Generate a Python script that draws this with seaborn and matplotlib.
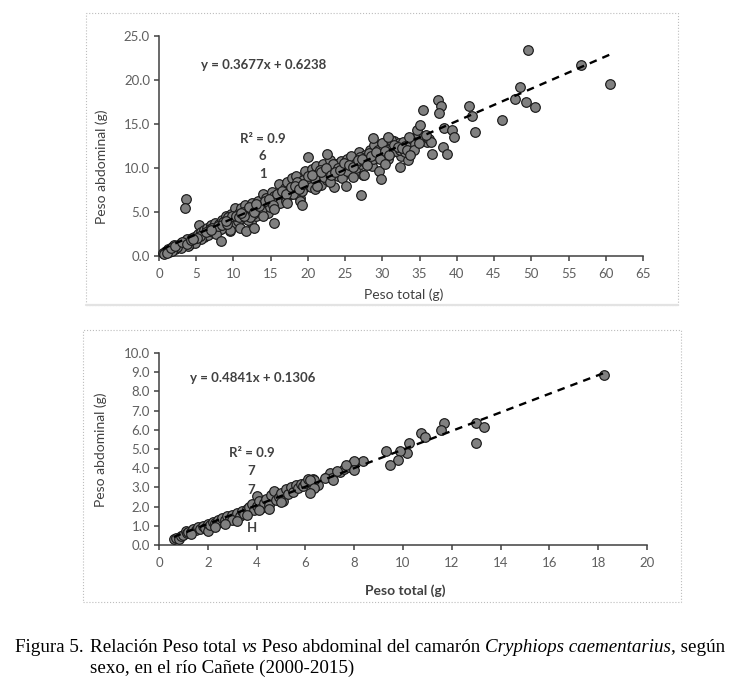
import numpy as np
import pandas as pd
import matplotlib
matplotlib.use("Agg")
import matplotlib.pyplot as plt
import seaborn as sns
from matplotlib.patches import Rectangle

# panel superior: peso total vs peso abdominal
top_total = [
    0.5, 0.8, 1.0, 1.2, 1.5, 1.8, 2.0, 2.3, 2.6, 2.9, 3.2, 3.5, 3.8, 4.1, 4.4, 4.7, 5.0, 5.2, 5.4, 5.6, 5.9,
    6.1, 6.4, 6.7, 7.0, 7.2, 7.5, 7.8, 8.1, 8.4, 8.7, 9.0, 9.2, 9.5, 9.7, 10.0, 10.2, 10.4,
    10.7, 11.0, 11.2, 11.5, 11.8, 12.0, 12.3, 12.5, 12.8, 13.0, 13.3, 13.6, 13.9, 14.1, 14.4, 14.7, 15.0, 15.2,
    15.5, 15.8, 16.1, 16.3, 16.6, 16.9, 17.2, 17.5, 17.8, 18.1, 18.4, 18.7, 19.0, 19.3, 19.6, 19.9,
    20.2, 20.5, 20.8, 21.1, 21.4, 21.7, 22.0, 22.3, 22.6, 22.9, 23.2, 23.5, 23.8, 24.1, 24.4, 24.7,
    25.0, 25.3, 25.6, 25.9, 26.2, 26.5, 26.8, 27.1, 27.4, 27.7, 28.0, 28.3, 28.6, 28.9, 29.2, 29.5, 29.8,
    30.1, 30.4, 30.7, 31.0, 31.3, 31.6, 31.9, 32.2, 32.5, 32.8, 33.1, 33.4, 33.7, 34.0, 34.4, 34.8, 35.3, 36.0,
    0.7, 1.4, 2.1, 2.8, 3.4, 4.0, 4.6, 5.3, 6.0, 6.6, 7.3, 8.0, 8.6, 9.3, 9.9, 10.6, 11.3, 11.9, 12.6, 13.2,
    13.8, 14.3, 14.9, 15.6, 16.2, 16.8, 17.4, 18.0, 18.6, 19.2, 19.8, 20.4, 21.0, 21.6, 22.2, 22.8, 23.4, 24.0, 24.6, 25.2,
    25.8, 26.4, 27.0, 27.6, 28.2, 28.8, 29.4, 30.0, 30.6, 31.2, 31.8, 32.4, 33.0, 33.6,
    26.1, 23.0, 20.9, 18.9, 17.0, 14.0, 12.2, 10.9, 9.6, 8.3, 7.6, 6.9, 5.7, 4.9, 3.9, 3.0, 2.4, 1.7, 1.1,
    1.6, 2.2, 3.1, 3.7, 4.3, 5.5, 6.3, 7.1, 7.9, 8.5, 9.1, 9.8, 10.3, 10.8, 11.4, 12.1, 12.7, 13.4, 14.2, 14.8,
    15.3, 15.9, 16.5, 17.1, 17.7, 18.3, 18.8, 19.4, 20.0, 20.6, 21.2, 21.8, 22.4, 23.1, 23.7, 24.3, 24.9, 25.5, 26.0, 26.7,
    27.3, 27.9, 28.5, 29.1, 29.7, 30.3, 30.9, 31.5, 32.1, 32.7, 33.3, 34.2, 35.6, 36.3, 13.0, 11.0, 9.0, 7.0, 5.1, 4.5,
    49.6, 56.7, 60.6, 48.5, 47.8, 49.3, 50.5, 41.6, 42.0, 46.1, 42.4, 37.5, 37.9, 37.6, 35.5, 38.3, 39.3, 39.6, 38.1, 38.7,
    36.6, 36.5, 35.9, 34.7, 35.0, 34.9, 33.7, 32.4, 29.8, 27.1, 25.1, 20.0, 22.5, 3.6, 3.5, 8.3, 11.7, 12.7, 15.4, 15.4,
    19.2, 17.2, 28.8, 30.8, 30.3, 27.5,
]
top_abdominal = [
    0.3, 0.5, 0.4, 0.8, 0.7, 1.0, 1.2, 0.9, 1.3, 1.5, 1.4, 1.7, 1.9, 1.6, 2.0, 2.2, 1.8, 2.5, 3.5, 2.7, 2.3,
    2.9, 3.2, 2.6, 3.5, 3.0, 3.8, 2.9, 3.6, 4.1, 3.3, 4.5, 3.9, 2.8, 4.8, 4.2, 5.5, 3.6,
    4.9, 5.4, 4.3, 5.8, 4.7, 5.2, 3.9, 6.0, 5.5, 4.6, 6.3, 5.1, 7.0, 5.8, 6.6, 4.9, 6.2, 7.3,
    6.8, 5.9, 8.2, 7.1, 6.4, 7.7, 8.4, 6.9, 8.9, 7.5, 9.1, 8.0, 6.6, 8.6, 9.7, 7.9,
    8.8, 9.9, 8.3, 10.2, 9.3, 8.1, 10.5, 9.6, 8.6, 10.9, 9.9, 7.8, 10.4, 9.1, 10.8, 9.5,
    10.1, 11.0, 9.4, 10.6, 11.3, 10.0, 11.8, 10.4, 9.2, 11.5, 10.9, 12.0, 10.2, 12.6, 11.2, 9.7, 12.3,
    11.6, 12.9, 11.0, 12.4, 11.8, 13.1, 12.2, 12.8, 11.4, 13.0, 12.5, 10.9, 12.9, 13.3, 12.7, 13.9, 13.2, 12.9,
    0.2, 0.5, 0.8, 1.1, 1.2, 1.3, 1.6, 2.0, 2.2, 2.4, 2.7, 3.0, 3.9, 4.4, 3.4, 4.0, 5.0, 4.1, 4.8, 5.4,
    5.3, 6.1, 5.6, 6.3, 6.0, 6.9, 7.5, 7.0, 8.4, 7.4, 8.3, 7.8, 8.7, 9.8, 9.0, 9.5, 10.5, 10.0, 8.9, 9.7,
    11.4, 10.6, 11.2, 10.7, 11.7, 11.0, 12.0, 12.8, 12.1, 13.2, 11.9, 12.0, 11.8, 13.5,
    9.0, 8.4, 7.6, 6.3, 6.2, 4.5, 4.4, 3.2, 3.0, 3.1, 2.5, 3.1, 1.9, 1.5, 1.1, 0.9, 1.0, 0.6, 0.3,
    0.9, 1.1, 1.6, 1.4, 1.8, 2.3, 2.7, 3.2, 3.4, 3.5, 3.6, 4.5, 4.6, 4.4, 4.6, 5.6, 5.0, 5.7, 6.2, 6.5,
    5.8, 7.0, 7.4, 7.0, 7.8, 8.0, 7.6, 8.2, 9.1, 9.2, 8.0, 9.5, 10.0, 9.2, 9.6, 9.8, 10.6, 10.3, 10.1, 10.9,
    11.0, 10.3, 11.4, 11.8, 11.0, 11.9, 11.5, 12.6, 12.4, 12.3, 12.1, 12.0, 13.6, 13.3, 5.9, 4.9, 4.0, 2.9, 2.1, 1.9,
    23.4, 21.7, 19.6, 19.2, 17.8, 17.5, 16.9, 17.0, 15.9, 15.5, 14.1, 17.7, 17.1, 16.2, 16.6, 14.6, 14.3, 13.5, 12.4, 11.6,
    11.6, 13.0, 13.7, 14.3, 14.9, 12.8, 11.5, 10.1, 8.8, 6.9, 7.9, 11.2, 11.6, 6.5, 5.5, 1.7, 2.8, 3.2, 3.7, 5.3,
    5.8, 6.0, 13.4, 13.5, 10.5, 9.2,
]
top_slope, top_intercept = 0.3677, 0.6238
top_equation = "y = 0.3677x + 0.6238"
top_r2_lines = ["R² = 0.9", "6", "1"]

# panel inferior
bottom_total = [
    0.6, 0.7, 0.8, 0.9, 1.0, 1.1, 1.15, 1.2, 1.3, 1.4, 1.5,
    1.6, 1.7, 1.8, 1.9, 2.0, 2.0,
    2.1, 2.2, 2.3, 2.4, 2.5, 2.6, 2.7, 2.8, 2.9, 3.0, 3.1, 3.2, 3.3, 3.4, 3.5, 3.6, 3.7, 3.8, 3.9,
    4.0, 4.0,
    4.1, 4.2, 4.3, 4.4, 4.5, 4.6, 4.7, 4.8, 4.9, 5.0, 5.1, 5.2, 5.3, 5.4, 5.5, 5.6, 5.7, 5.8, 5.9, 6.0, 6.1,
    6.3, 6.5, 6.9, 7.0, 7.1, 7.4, 7.6, 7.8, 7.9, 8.0,
    3.0, 2.7, 3.6, 4.1, 4.5, 5.0, 1.3, 2.3, 3.2,
    18.25, 13.0, 13.3, 13.0, 11.67, 11.55, 10.73, 10.9, 10.26, 10.18, 9.87, 9.79, 9.29, 9.48, 8.38,
    7.99, 7.67, 7.99, 7.28, 6.8, 7.13, 6.34, 6.19, 6.34, 6.19,
]
bottom_abdominal = [
    0.30, 0.35, 0.32, 0.45, 0.50, 0.75, 0.62, 0.68, 0.70, 0.82, 0.78,
    0.95, 0.85, 1.00, 0.90, 1.10, 0.75,
    1.05, 1.20, 1.15, 1.30, 1.22, 1.40, 1.28, 1.50, 1.35, 1.55, 1.45, 1.65, 1.50, 1.75, 1.60, 1.85, 2.00, 2.15, 1.80,
    2.55, 2.05,
    2.30, 1.95, 2.20, 2.40, 2.10, 2.60, 2.80, 2.35, 2.50, 2.70, 2.30, 2.90, 2.65, 3.00, 2.75, 3.10, 2.95, 3.20, 3.05, 3.25, 3.45,
    3.45, 3.10, 3.55, 3.75, 3.50, 3.80, 3.95, 4.05, 4.20, 4.30,
    1.30, 1.10, 1.55, 1.80, 1.90, 2.25, 0.55, 0.95, 1.25,
    8.87, 6.35, 6.17, 5.30, 6.35, 6.00, 5.83, 5.65, 5.30, 4.78, 4.87, 4.43, 4.87, 4.17, 4.35,
    4.35, 4.17, 3.91, 3.83, 3.48, 3.39, 3.39, 3.39, 2.96, 2.70,
]
bottom_slope, bottom_intercept = 0.4841, 0.1306
bottom_equation = "y = 0.4841x + 0.1306"
bottom_r2_lines = ["R² = 0.9", "7", "7", "", "H"]

top = pd.DataFrame({"total": top_total, "abdominal": top_abdominal})
bottom = pd.DataFrame({"total": bottom_total, "abdominal": bottom_abdominal})

sns.set_style("white")
plt.rcParams["font.family"] = ["Lato", "DejaVu Sans"]

W, H = 753, 683
fig = plt.figure(figsize=(W / 100, H / 100), dpi=100)


def axes_px(l, t, r, b):
    return fig.add_axes([l / W, 1 - b / H, (r - l) / W, (b - t) / H])


def box_px(l, t, r, b, **kw):
    fig.add_artist(Rectangle((l / W, 1 - b / H), (r - l) / W, (b - t) / H,
                             transform=fig.transFigure, fill=False, **kw))


ax1 = axes_px(159, 36, 643, 256)
ax2 = axes_px(159, 353, 647, 545)

box_px(86, 13, 678, 305, edgecolor="#bdbdbd", lw=0.8, ls=":")
fig.add_artist(plt.Line2D([86 / W, 678 / W], [1 - 305 / H] * 2, transform=fig.transFigure,
                          color="#e3e3e3", lw=1.6))
box_px(83, 330, 681, 602, edgecolor="#bdbdbd", lw=0.8, ls=":")

tick_col = "#5f5f5f"
axis_col = "#404040"


def style(ax, xmax, xstep, ymax, ystep):
    ax.set_xlim(0, xmax)
    ax.set_ylim(0, ymax)
    ax.set_xticks(np.arange(0, xmax + xstep / 2, xstep))
    ax.set_yticks(np.arange(0, ymax + ystep / 2, ystep))
    ax.yaxis.set_major_formatter("{x:.1f}")
    ax.xaxis.set_major_formatter("{x:.0f}")
    for s in ["top", "right"]:
        ax.spines[s].set_visible(False)
    for s in ["left", "bottom"]:
        ax.spines[s].set_color(axis_col)
        ax.spines[s].set_linewidth(1.1)
    ax.tick_params(bottom=True, left=True, direction="out", length=3.5, width=1.1,
                   color=axis_col, labelsize=9.5, labelcolor=tick_col)
    ax.tick_params(axis="x", pad=5)
    ax.tick_params(axis="y", pad=3)
    ax.set_xlabel("")
    ax.set_ylabel("")
    ax.patch.set_alpha(0)


for ax, df, m, b in [(ax1, top, top_slope, top_intercept),
                     (ax2, bottom, bottom_slope, bottom_intercept)]:
    sns.scatterplot(data=df, x="total", y="abdominal", ax=ax, s=48, color="#808080",
                    edgecolor="#1a1a1a", linewidth=0.85, zorder=3, legend=False, clip_on=False)
    xs = np.array([df["total"].min(), df["total"].max()])
    ax.plot(xs, m * xs + b, color="black", lw=1.7, ls=(0, (3.2, 2.6)), zorder=4)

style(ax1, 65, 5, 25, 5)
style(ax2, 20, 2, 10, 1)

txt = dict(ha="center", va="center", fontsize=9.5, color=axis_col)

ax1.text(14.1, 21.7, top_equation, fontweight="bold", **txt)
for s, y in zip(top_r2_lines, [13.35, 11.35, 9.3]):
    ax1.text(13.9, y, s, fontweight="bold", zorder=2, **txt)

ax2.text(3.85, 8.7, bottom_equation, fontweight="bold", **txt)
for s, y in zip(bottom_r2_lines, [4.78, 3.83, 2.87, 1.9, 0.87]):
    ax2.text(3.8, y, s, fontweight="bold", zorder=2, **txt)

lab = dict(ha="center", va="center", fontsize=10, color=axis_col)
fig.text(404 / W, 1 - 295 / H, "Peso total (g)", **lab)
fig.text(102 / W, 1 - 167 / H, "Peso abdominal (g)", rotation=90, **lab)
fig.text(405 / W, 1 - 591 / H, "Peso total (g)", fontweight="bold", **lab)
fig.text(101 / W, 1 - 450 / H, "Peso abdominal (g)", rotation=90, **lab)

# pie de figura con partes en cursiva
cap = dict(fontsize=13.7, family="Liberation Serif", color="black", va="center", ha="left")
renderer = fig.canvas.get_renderer()


def piece_width(s, style_):
    a = fig.text(0, 0, "x" + s, style=style_, **cap)
    c = fig.text(0, 0, "x", style=style_, **cap)
    w = a.get_window_extent(renderer).width - c.get_window_extent(renderer).width
    a.remove()
    c.remove()
    return w


def rich_line(parts, x_px, y_px):
    for s, st in parts:
        fig.text(x_px / W, 1 - y_px / H, s, style=st, **cap)
        x_px += piece_width(s, st)


fig.text(15 / W, 1 - 647 / H, "Figura 5.", **cap)
rich_line([("Relación Peso total ", "normal"), ("vs", "italic"),
           (" Peso abdominal del camarón ", "normal"), ("Cryphiops caementarius", "italic"),
           (", según", "normal")], 90, 647)
rich_line([("sexo, en el río Cañete (2000-2015)", "normal")], 90, 668)

fig.savefig("out.png", dpi=100)
